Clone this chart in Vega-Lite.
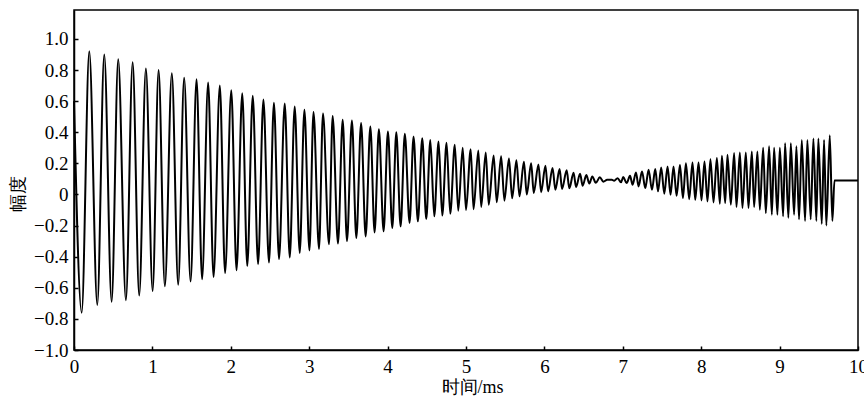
{
 "$schema": "https://vega.github.io/schema/vega-lite/v6.json",
 "width": 784, "height": 340,
 "autosize": "none",
 "padding": {"left": 74, "top": 10, "right": 6, "bottom": 50},
 "background": "white",
 "config": {
  "view": {"stroke": "black", "strokeWidth": 1.5},
  "axis": {"domainColor": "black", "domainWidth": 1.5, "tickColor": "black", "tickWidth": 1.5, "tickSize": -4, "grid": false,
   "labelFont": "Times New Roman", "labelFontSize": 19, "labelColor": "black", "labelFlush": false,
   "titleFont": "Times New Roman", "titleFontSize": 18, "titleFontWeight": "normal", "titleColor": "black"}
 },
 "data": {"values": [
  {"t":0,"v":0.60},{"t":0.098,"v":-0.76},{"t":0.195,"v":0.92},{"t":0.297,"v":-0.71},{"t":0.386,"v":0.90},
  {"t":0.480,"v":-0.69},{"t":0.564,"v":0.87},{"t":0.662,"v":-0.68},{"t":0.748,"v":0.85},{"t":0.832,"v":-0.65},
  {"t":0.917,"v":0.81},{"t":1.003,"v":-0.62},{"t":1.079,"v":0.80},{"t":1.159,"v":-0.59},{"t":1.248,"v":0.78},
  {"t":1.329,"v":-0.58},{"t":1.405,"v":0.75},{"t":1.487,"v":-0.56},{"t":1.563,"v":0.74},{"t":1.634,"v":-0.545},
  {"t":1.711,"v":0.72},{"t":1.780,"v":-0.53},{"t":1.860,"v":0.70},{"t":1.927,"v":-0.505},{"t":2.006,"v":0.67},
  {"t":2.073,"v":-0.487},{"t":2.146,"v":0.65},{"t":2.210,"v":-0.46},{"t":2.280,"v":0.635},{"t":2.348,"v":-0.448},
  {"t":2.416,"v":0.61},{"t":2.487,"v":-0.438},{"t":2.550,"v":0.59},{"t":2.615,"v":-0.415},{"t":2.688,"v":0.585},
  {"t":2.752,"v":-0.405},{"t":2.815,"v":0.565},{"t":2.879,"v":-0.376},{"t":2.939,"v":0.545},{"t":3.003,"v":-0.36},
  {"t":3.055,"v":0.53},{"t":3.125,"v":-0.35},{"t":3.176,"v":0.52},{"t":3.252,"v":-0.32},{"t":3.299,"v":0.505},
  {"t":3.367,"v":-0.316},{"t":3.427,"v":0.48},{"t":3.482,"v":-0.30},{"t":3.545,"v":0.475},{"t":3.601,"v":-0.28},
  {"t":3.662,"v":0.46},{"t":3.720,"v":-0.27},{"t":3.780,"v":0.437},{"t":3.834,"v":-0.244},{"t":3.889,"v":0.42},
  {"t":3.949,"v":-0.237},{"t":4.004,"v":0.405},{"t":4.060,"v":-0.215},{"t":4.111,"v":0.40},{"t":4.166,"v":-0.205},
  {"t":4.220,"v":0.39},{"t":4.280,"v":-0.183},{"t":4.331,"v":0.373},{"t":4.386,"v":-0.173},{"t":4.442,"v":0.362},
  {"t":4.493,"v":-0.158},{"t":4.545,"v":0.35},{"t":4.595,"v":-0.14},{"t":4.650,"v":0.34},{"t":4.697,"v":-0.136},
  {"t":4.752,"v":0.333},{"t":4.799,"v":-0.124},{"t":4.857,"v":0.32},{"t":4.901,"v":-0.105},{"t":4.958,"v":0.30},
  {"t":5.000,"v":-0.10},{"t":5.060,"v":0.29},{"t":5.096,"v":-0.095},{"t":5.157,"v":0.283},{"t":5.194,"v":-0.08},
  {"t":5.252,"v":0.27},{"t":5.290,"v":-0.066},{"t":5.353,"v":0.25},{"t":5.392,"v":-0.05},{"t":5.448,"v":0.245},
  {"t":5.490,"v":-0.04},{"t":5.548,"v":0.232},{"t":5.589,"v":-0.025},{"t":5.643,"v":0.22},{"t":5.682,"v":-0.012},
  {"t":5.739,"v":0.21},{"t":5.775,"v":0.0},{"t":5.831,"v":0.20},{"t":5.864,"v":0.01},{"t":5.924,"v":0.193},
  {"t":5.958,"v":0.015},{"t":6.013,"v":0.185},{"t":6.047,"v":0.02},{"t":6.104,"v":0.17},{"t":6.140,"v":0.03},
  {"t":6.194,"v":0.163},{"t":6.225,"v":0.035},{"t":6.284,"v":0.155},{"t":6.318,"v":0.04},{"t":6.372,"v":0.14},
  {"t":6.404,"v":0.048},{"t":6.455,"v":0.133},{"t":6.488,"v":0.056},{"t":6.535,"v":0.125},{"t":6.573,"v":0.07},
  {"t":6.611,"v":0.116},{"t":6.656,"v":0.075},{"t":6.707,"v":0.11},{"t":6.752,"v":0.082},{"t":6.80,"v":0.094},
  {"t":6.86,"v":0.095},{"t":6.89,"v":0.088},{"t":6.934,"v":0.105},{"t":6.977,"v":0.078},{"t":7.006,"v":0.112},
  {"t":7.049,"v":0.073},{"t":7.092,"v":0.12},{"t":7.125,"v":0.063},{"t":7.168,"v":0.142},{"t":7.201,"v":0.052},
  {"t":7.245,"v":0.148},{"t":7.287,"v":0.041},{"t":7.329,"v":0.159},{"t":7.372,"v":0.03},{"t":7.414,"v":0.163},
  {"t":7.449,"v":0.02},{"t":7.49,"v":0.174},{"t":7.529,"v":0.005},{"t":7.571,"v":0.18},{"t":7.609,"v":-0.002},
  {"t":7.647,"v":0.18},{"t":7.686,"v":-0.008},{"t":7.729,"v":0.19},{"t":7.767,"v":-0.023},{"t":7.805,"v":0.20},
  {"t":7.847,"v":-0.03},{"t":7.889,"v":0.206},{"t":7.924,"v":-0.034},{"t":7.966,"v":0.206},{"t":8.004,"v":-0.038},
  {"t":8.042,"v":0.212},{"t":8.08,"v":-0.045},{"t":8.118,"v":0.227},{"t":8.157,"v":-0.051},{"t":8.2,"v":0.234},
  {"t":8.238,"v":-0.06},{"t":8.264,"v":0.249},{"t":8.306,"v":-0.055},{"t":8.335,"v":0.255},{"t":8.378,"v":-0.066},
  {"t":8.420,"v":0.266},{"t":8.450,"v":-0.08},{"t":8.493,"v":0.27},{"t":8.526,"v":-0.087},{"t":8.569,"v":0.27},
  {"t":8.603,"v":-0.087},{"t":8.646,"v":0.277},{"t":8.675,"v":-0.08},{"t":8.717,"v":0.277},{"t":8.748,"v":-0.098},
  {"t":8.790,"v":0.30},{"t":8.824,"v":-0.12},{"t":8.866,"v":0.31},{"t":8.901,"v":-0.13},{"t":8.930,"v":0.30},
  {"t":8.972,"v":-0.13},{"t":9.003,"v":0.30},{"t":9.045,"v":-0.14},{"t":9.070,"v":0.33},{"t":9.112,"v":-0.15},
  {"t":9.143,"v":0.33},{"t":9.185,"v":-0.13},{"t":9.214,"v":0.31},{"t":9.248,"v":-0.16},{"t":9.283,"v":0.35},
  {"t":9.325,"v":-0.17},{"t":9.354,"v":0.35},{"t":9.397,"v":-0.16},{"t":9.431,"v":0.36},{"t":9.469,"v":-0.17},
  {"t":9.494,"v":0.36},{"t":9.538,"v":-0.19},{"t":9.567,"v":0.35},{"t":9.596,"v":-0.20},{"t":9.640,"v":0.38},
  {"t":9.673,"v":-0.17},{"t":9.70,"v":0.09},{"t":10,"v":0.09}
 ]},
 "mark": {"type": "line", "interpolate": "monotone", "color": "black", "strokeWidth": 2},
 "encoding": {
  "x": {"field": "t", "type": "quantitative", "scale": {"domain": [0, 10], "nice": false},
   "axis": {"values": [0,1,2,3,4,5,6,7,8,9,10], "format": "d", "title": "时间/ms", "labelPadding": 11,
    "labelFont": "Times New Roman", "titleX": 398, "titleY": 37, "titleBaseline": "middle"}},
  "y": {"field": "v", "type": "quantitative", "scale": {"domain": [-1, 1.186], "nice": false, "zero": false},
   "axis": {"values": [-1,-0.8,-0.6,-0.4,-0.2,0,0.2,0.4,0.6,0.8,1], "labelPadding": 10,
    "labelFont": "Times New Roman",
    "labelExpr": "datum.value == 0 ? '0' : format(datum.value, '.1f')",
    "title": "幅度", "titleX": -56, "titleY": 183, "titleBaseline": "middle"}}
 }
}
